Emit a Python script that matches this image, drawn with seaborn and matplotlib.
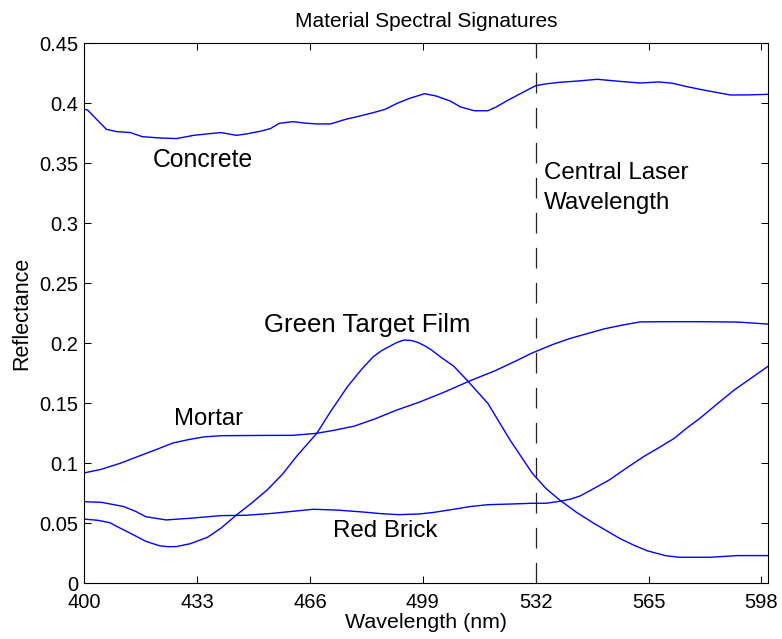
import matplotlib
matplotlib.use("Agg")
import matplotlib.pyplot as plt
import seaborn as sns
import pandas as pd

# ---------------- data ----------------
concrete_wl = [400, 401, 404, 406.5, 409.5, 413.5, 417, 422, 427, 432,
               436, 440, 444.5, 447.5, 451.5, 454.5, 457, 461, 464.5, 468,
               472, 476.5, 480, 484.5, 488, 491.5, 495, 499.5, 503, 507,
               510, 514, 518, 520.5, 523.5, 527.5, 532, 535, 539, 544,
               550, 556.5, 562.5, 568, 572, 576, 581, 585, 589, 594, 600]
concrete_r = [0.395, 0.3944, 0.3855, 0.3783, 0.3764, 0.3756, 0.3722, 0.3711, 0.3706, 0.3733,
              0.3745, 0.3756, 0.3733, 0.3745, 0.3767, 0.379, 0.3833, 0.3847, 0.3835, 0.3828,
              0.3828, 0.3867, 0.389, 0.3922, 0.395, 0.400, 0.404, 0.408, 0.406, 0.4019,
              0.397, 0.3938, 0.3938, 0.397, 0.402, 0.408, 0.4147, 0.4162, 0.4175, 0.4185,
              0.420, 0.4183, 0.4169, 0.4178, 0.4167, 0.414, 0.4111, 0.409, 0.4069, 0.407, 0.4075]

mortar_wl = [400, 405, 410.5, 416, 422, 426, 431, 435, 440, 450,
             461, 468, 473, 479, 485, 491, 498, 505, 513, 520,
             526, 531, 537, 542, 547, 552, 557, 562.5, 570, 580, 591, 600]
mortar_r = [0.092, 0.095, 0.100, 0.106, 0.1125, 0.117, 0.120, 0.122, 0.123, 0.1232,
            0.1233, 0.125, 0.1275, 0.131, 0.137, 0.144, 0.151, 0.159, 0.169, 0.177,
            0.185, 0.192, 0.199, 0.204, 0.208, 0.212, 0.215, 0.2178, 0.218, 0.218, 0.2177, 0.216]

green_wl = [400, 404, 407.5, 410.5, 413.5, 418, 422, 424.5, 427, 431,
            436, 440, 444.5, 449, 453.5, 458, 462, 468, 472, 477,
            481, 484.5, 487, 489.5, 491.5, 493.5, 495.5, 497.5, 499.5, 501.5,
            504, 508, 512, 518, 524.5, 531, 535, 539, 544, 549,
            556.5, 560.5, 564.5, 570, 574, 583, 591, 600]
green_r = [0.0535, 0.0525, 0.0505, 0.046, 0.0417, 0.035, 0.0313, 0.0305, 0.0306, 0.033,
           0.0383, 0.046, 0.0569, 0.067, 0.0778, 0.091, 0.1055, 0.125, 0.143, 0.164,
           0.178, 0.1888, 0.194, 0.1978, 0.2008, 0.2027, 0.2024, 0.2008, 0.198, 0.1945,
           0.189, 0.181, 0.169, 0.150, 0.1194, 0.0917, 0.079, 0.0694, 0.059, 0.050,
           0.0375, 0.032, 0.0272, 0.023, 0.0217, 0.0217, 0.0231, 0.0231]

brick_wl = [400, 405, 411.5, 415, 418, 424, 431, 440, 447.5, 455,
            461, 467, 474, 481.5, 487, 492, 498, 502, 508, 513,
            518, 524, 531, 535, 539, 542, 545, 549, 553.5, 558,
            563.5, 568, 572.5, 576, 580, 584, 587, 590, 594, 597, 600]
brick_r = [0.068, 0.0675, 0.064, 0.060, 0.0555, 0.0528, 0.0542, 0.0564, 0.0567, 0.0583,
           0.060, 0.0617, 0.061, 0.0594, 0.058, 0.0572, 0.0578, 0.059, 0.0617, 0.064,
           0.0655, 0.066, 0.0667, 0.0667, 0.0683, 0.070, 0.0728, 0.079, 0.0861, 0.095,
           0.1055, 0.113, 0.1208, 0.129, 0.1375, 0.147, 0.154, 0.161, 0.169, 0.175, 0.181]

laser_wl = 532

x_ticks = [400, 433, 466, 499, 532, 565, 598]
y_ticks = [0, 0.05, 0.1, 0.15, 0.2, 0.25, 0.3, 0.35, 0.4, 0.45]
y_tick_labels = ["0", "0.05", "0.1", "0.15", "0.2", "0.25", "0.3", "0.35", "0.4", "0.45"]

title = "Material Spectral Signatures"
x_label = "Wavelength (nm)"
y_label = "Reflectance"

# label texts and their anchor positions (left edge, vertical centre) in data units
labels = ["Concrete", "Mortar", "Green Target Film", "Red Brick", "Central Laser", "Wavelength"]
label_x = [420.0, 426.3, 452.7, 472.8, 534.4, 534.4]
label_y = [0.353, 0.137, 0.215, 0.0436, 0.3415, 0.3165]
label_size = [17.8, 17.2, 18.6, 17.4, 17.4, 17.4]

# ---------------- style ----------------
sns.set_theme(style="white")
plt.rcParams["font.family"] = ["Liberation Sans", "DejaVu Sans"]
plt.rcParams.update({
    "xtick.direction": "in", "ytick.direction": "in",
    "xtick.top": True, "ytick.right": True,
    "xtick.bottom": True, "ytick.left": True,
    "xtick.major.size": 5, "ytick.major.size": 5,
    "xtick.major.width": 0.75, "ytick.major.width": 0.75,
    "xtick.color": "black", "ytick.color": "black",
    "axes.edgecolor": "black", "axes.linewidth": 0.8,
    "text.color": "black", "axes.labelcolor": "black",
})

fig = plt.figure(figsize=(7.82, 6.39), dpi=100)
ax = fig.add_axes([84.2 / 782, 1 - 583.3 / 639, (768.3 - 84.2) / 782, (583.3 - 43.3) / 639])

series = [(concrete_wl, concrete_r), (mortar_wl, mortar_r),
          (green_wl, green_r), (brick_wl, brick_r)]
for wl, r in series:
    df = pd.DataFrame({"wl": wl, "r": r})
    sns.lineplot(data=df, x="wl", y="r", ax=ax, color="#0000ff", lw=1.0,
                 estimator=None, sort=False)

ax.axvline(laser_wl, color="#222222", lw=0.9, linestyle=(0, (16.5, 11.5)))

for t, lx, ly, fs in zip(labels, label_x, label_y, label_size):
    ax.text(lx, ly, t, ha="left", va="center", fontsize=fs)

ax.set_xlim(400, 600)
ax.set_ylim(0, 0.45)
ax.set_xticks(x_ticks)
ax.set_yticks(y_ticks)
ax.set_yticklabels(y_tick_labels)
ax.tick_params(axis="both", labelsize=14.5)
ax.tick_params(axis="y", pad=4.5)
ax.tick_params(axis="x", pad=7)

ax.set_title(title, fontsize=15, pad=12)
ax.set_xlabel(x_label, fontsize=15.4, labelpad=1)
ax.set_ylabel(y_label, fontsize=15.5, labelpad=5)

for s in ax.spines.values():
    s.set_visible(True)
    s.set_color("black")

fig.savefig("out.png", dpi=100)
